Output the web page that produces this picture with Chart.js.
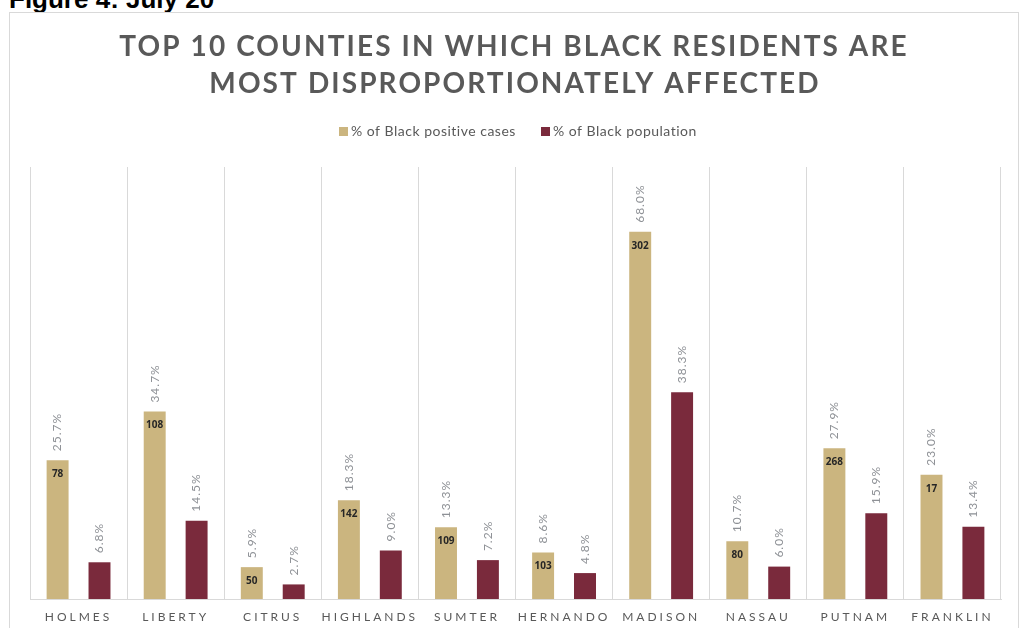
<!DOCTYPE html>
<html>
<head>
<meta charset="utf-8">
<script src="https://cdn.jsdelivr.net/npm/chart.js@4.4.1/dist/chart.umd.min.js"></script>
<style>
  html, body { margin: 0; padding: 0; background: #fff; width: 1024px; height: 628px; overflow: hidden; }
  #caption { position: absolute; left: 9px; top: -14px; font: bold 26px "Liberation Sans", Arial, sans-serif; line-height: 26px; color: #000; white-space: nowrap; }
  #frame { position: absolute; left: 9px; top: 12px; width: 1010px; height: 700px; border: 1px solid #d9d9d9; box-sizing: border-box; }
  #wrap { position: absolute; left: 0; top: 0; width: 1024px; height: 628px; }
</style>
</head>
<body>
<div id="caption">Figure 4: July 20</div>
<div id="frame"></div>
<div id="wrap"><canvas id="c" width="1024" height="628"></canvas></div>
<script>
const titleLines = ["TOP 10 COUNTIES IN WHICH BLACK RESIDENTS ARE", "MOST DISPROPORTIONATELY AFFECTED"];
const counties = ["HOLMES", "LIBERTY", "CITRUS", "HIGHLANDS", "SUMTER", "HERNANDO", "MADISON", "NASSAU", "PUTNAM", "FRANKLIN"];
const seriesNames = ["% of Black positive cases", "% of Black population"];
const pctPositiveCases = [25.7, 34.7, 5.9, 18.3, 13.3, 8.6, 68.0, 10.7, 27.9, 23.0];
const pctPopulation = [6.8, 14.5, 2.7, 9.0, 7.2, 4.8, 38.3, 6.0, 15.9, 13.4];
const caseCounts = [78, 108, 50, 142, 109, 103, 302, 80, 268, 17];

const TAN = "#CBB57F";
const MAROON = "#7A2A3C";
const GRAY = "#595959";

const decorPlugin = {
  id: "decor",
  beforeDraw(chart) {
    const ctx = chart.ctx;
    ctx.save();
    // Title
    ctx.fillStyle = GRAY;
    ctx.font = "bold 28px Lato, 'Open Sans', sans-serif";
    ctx.letterSpacing = "2.1px";
    ctx.textAlign = "center";
    ctx.textBaseline = "middle";
    ctx.fillText(titleLines[0], 514, 47);
    ctx.fillText(titleLines[1], 515, 84);
    // Legend
    ctx.letterSpacing = "0.5px";
    ctx.font = "14px Lato, 'Open Sans', sans-serif";
    ctx.textAlign = "left";
    const items = [[TAN, seriesNames[0], 339], [MAROON, seriesNames[1], 541]];
    items.forEach(([col, txt, x]) => {
      ctx.fillStyle = col;
      ctx.fillRect(x, 127, 9, 9);
      ctx.fillStyle = GRAY;
      ctx.fillText(txt, x + 12, 131.5);
    });
    ctx.restore();
    // letter spacing for axis tick labels
    ctx.letterSpacing = "3px";
  },
  beforeDatasetsDraw(chart) {
    chart.ctx.letterSpacing = "0px";
  },
  afterDatasetsDraw(chart) {
    const ctx = chart.ctx;
    ctx.save();
    [0, 1].forEach(di => {
      const meta = chart.getDatasetMeta(di);
      meta.data.forEach((bar, i) => {
        const v = chart.data.datasets[di].data[i];
        // rotated percentage label
        ctx.save();
        ctx.translate(bar.x, bar.y - 9);
        ctx.rotate(-Math.PI / 2);
        ctx.font = "12px Lato, 'Open Sans', sans-serif";
        ctx.letterSpacing = "1px";
        ctx.fillStyle = "#8E9196";
        ctx.textAlign = "left";
        ctx.textBaseline = "middle";
        ctx.fillText(v.toFixed(1) + "%", 0, 0);
        ctx.restore();
        if (di === 0) {
          ctx.font = "bold 10px 'Open Sans', Lato, sans-serif";
          ctx.fillStyle = "#262626";
          ctx.textAlign = "center";
          ctx.textBaseline = "middle";
          ctx.fillText(String(caseCounts[i]), bar.x, bar.y + 14);
        }
      });
    });
    ctx.restore();
  }
};

new Chart(document.getElementById("c"), {
  type: "bar",
  data: {
    labels: counties,
    datasets: [
      { label: seriesNames[0], data: pctPositiveCases, backgroundColor: TAN },
      { label: seriesNames[1], data: pctPopulation, backgroundColor: MAROON }
    ]
  },
  options: {
    responsive: false,
    animation: false,
    devicePixelRatio: 1,
    categoryPercentage: 0.863,
    barPercentage: 0.524,
    layout: { padding: { left: 30, right: 23, top: 167, bottom: 0 } },
    plugins: { legend: { display: false }, title: { display: false }, tooltip: { enabled: false } },
    scales: {
      x: {
        grid: { display: true, offset: true, color: "#d9d9d9", drawTicks: false, lineWidth: 1 },
        border: { display: true, color: "#d9d9d9" },
        ticks: { color: GRAY, font: { size: 12, family: "Lato, 'Open Sans', sans-serif" }, padding: 11, maxRotation: 0, autoSkip: false },
        afterFit(s) { s.height = 29; }
      },
      y: { display: false, min: 0, max: 80 }
    }
  },
  plugins: [decorPlugin]
});
</script>
</body>
</html>
